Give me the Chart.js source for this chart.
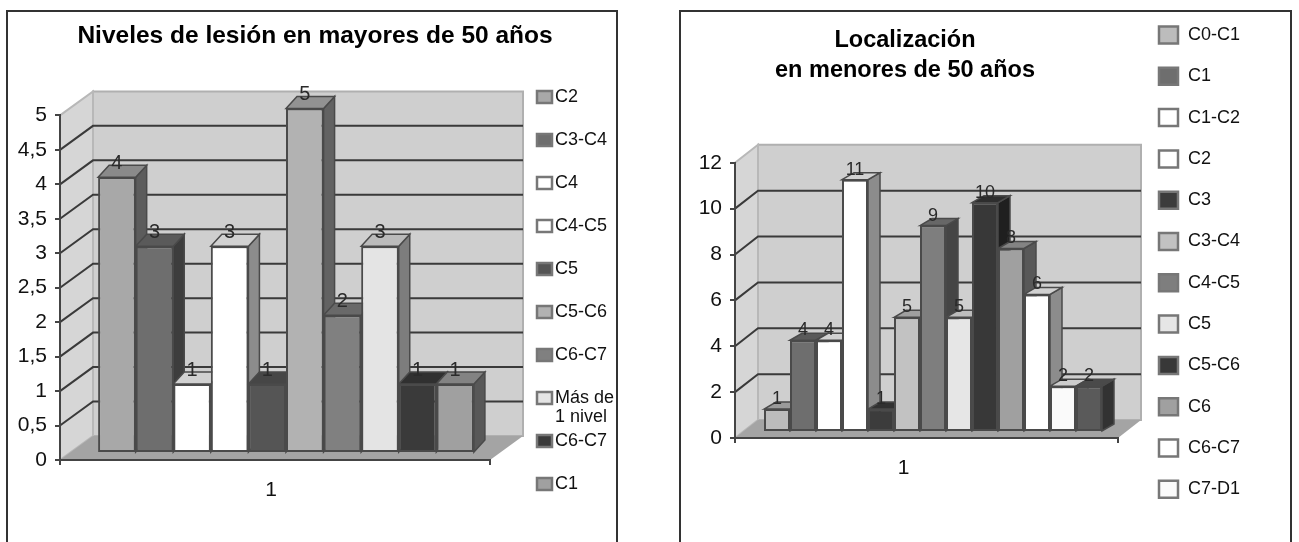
<!DOCTYPE html>
<html lang="es">
<head>
<meta charset="utf-8">
<title>Niveles de lesión</title>
<script src="https://cdn.jsdelivr.net/npm/chart.js@4"></script>
<style>
    html, body { margin: 0; background: #fff; overflow: hidden; }
    body { width: 1299px; height: 542px; position: relative; }
    .frame { position: absolute; border: solid #333; border-width: 2px 2px 0 2px; box-sizing: border-box; }
    canvas { position: absolute; top: 0; }
</style>
</head>
<body>
<div class="frame" style="left:6px; top:10px; width:612px; height:532px"></div>
<div class="frame" style="left:679px; top:10px; width:613px; height:532px"></div>
<canvas id="olderChart" width="640" height="542" style="left:0"></canvas>
<canvas id="youngerChart" width="659" height="542" style="left:640px"></canvas>
<script>
const olderLevels = ['C2', 'C3-C4', 'C4', 'C4-C5', 'C5', 'C5-C6', 'C6-C7', 'Más de\n1 nivel', 'C6-C7', 'C1'];
const olderCounts = [4, 3, 1, 3, 1, 5, 2, 3, 1, 1];
const olderFills = ['#a8a8a8', '#6e6e6e', '#ffffff', '#ffffff', '#555555', '#b2b2b2', '#808080', '#e4e4e4', '#3a3a3a', '#a0a0a0'];

// the last bar has no legend row, the legend runs out before it
const youngerLevels = ['C0-C1', 'C1', 'C1-C2', 'C2', 'C3', 'C3-C4', 'C4-C5', 'C5', 'C5-C6', 'C6', 'C6-C7', 'C7-D1', ''];
const youngerCounts = [1, 4, 4, 11, 1, 5, 9, 5, 10, 8, 6, 2, 2];
const youngerFills = ['#bcbcbc', '#6e6e6e', '#ffffff', '#ffffff', '#3c3c3c', '#c2c2c2', '#7e7e7e', '#e6e6e6', '#383838', '#a0a0a0', '#ffffff', '#fafafa', '#5a5a5a'];

const FONT = '"Liberation Sans", Arial, sans-serif';
const AXIS = '#444';

function shade(hex, f) {
    const n = parseInt(hex.slice(1), 16);
    const c = s => Math.round(((n >> s) & 255) * f);
    return `rgb(${c(16)},${c(8)},${c(0)})`;
}

function poly(ctx, pts, fill, stroke, width) {
    ctx.beginPath();
    pts.forEach((p, i) => i ? ctx.lineTo(p[0], p[1]) : ctx.moveTo(p[0], p[1]));
    ctx.closePath();
    if (fill) { ctx.fillStyle = fill; ctx.fill(); }
    if (stroke) { ctx.strokeStyle = stroke; ctx.lineWidth = width || 1; ctx.stroke(); }
}

const eachBar = (chart, fn) => chart.data.datasets.forEach((ds, i) => fn(chart.getDatasetMeta(i).data[0], ds));

// Fake 3D look: walls and floor behind the axes, extruded sides on the bars
const depthPlugin = {
    id: 'depth',
    afterLayout(chart, args, opts) {
        chart.titleBlock.left = opts.titleCenter - 300;
        chart.titleBlock.right = opts.titleCenter + 300;
    },
    beforeDraw(chart, args, opts) {
        const { ctx, chartArea: a, scales: { y } } = chart;
        const { wallDx: dx, wallDy: dy } = opts;
        ctx.save();
        poly(ctx, [[a.left + dx, a.top + dy], [a.right + dx, a.top + dy], [a.right + dx, a.bottom + dy], [a.left + dx, a.bottom + dy]], '#cfcfcf', '#b0b0b0', 2);
        poly(ctx, [[a.left, a.top], [a.left + dx, a.top + dy], [a.left + dx, a.bottom + dy], [a.left, a.bottom]], '#d6d6d6', '#b8b8b8', 2);
        poly(ctx, [[a.left, a.bottom], [a.left + dx, a.bottom + dy], [a.right + dx, a.bottom + dy], [a.right, a.bottom]], '#a4a4a4');
        y.ticks.slice(1, -1).forEach(t => {
            const py = y.getPixelForValue(t.value);
            ctx.beginPath();
            ctx.moveTo(a.left, py);
            ctx.lineTo(a.left + dx, py + dy);
            ctx.lineTo(a.right + dx, py + dy);
            ctx.strokeStyle = '#3a3a3a';
            ctx.lineWidth = 2;
            ctx.stroke();
        });
        ctx.restore();
    },
    beforeDatasetsDraw(chart, args, opts) {
        const { ctx } = chart;
        ctx.save();
        ctx.translate(opts.barDx, opts.barDy);
        const sx = opts.sideDx, sy = opts.sideDy;
        eachBar(chart, (bar, ds) => {
            const l = bar.x - bar.width / 2, r = bar.x + bar.width / 2;
            poly(ctx, [[r, bar.y], [r + sx, bar.y + sy], [r + sx, bar.base + sy], [r, bar.base]], shade(ds.backgroundColor, 0.55), '#4a4a4a', 1.5);
            poly(ctx, [[l, bar.y], [l + sx, bar.y + sy], [r + sx, bar.y + sy], [r, bar.y]], shade(ds.backgroundColor, 0.82), '#4a4a4a', 1.5);
        });
    },
    afterDatasetsDraw(chart, args, opts) {
        const { ctx } = chart;
        ctx.textAlign = 'center';
        ctx.textBaseline = 'middle';
        ctx.font = opts.valueFont + ' ' + FONT;
        ctx.fillStyle = '#2a2a2a';
        eachBar(chart, (bar, ds) => ctx.fillText(ds.data[0], bar.x, bar.y + opts.valueDy));
        ctx.restore();
    },
    // legend rows sit on a fixed pitch, and one label breaks over two lines
    afterDraw(chart, args, opts) {
        const { ctx } = chart;
        const L = opts.legend;
        ctx.save();
        ctx.textBaseline = 'middle';
        ctx.textAlign = 'left';
        chart.data.datasets.forEach((ds, i) => {
            if (!ds.label) return;
            const cy = L.top + i * L.step;
            poly(ctx, [[L.x, cy - L.boxH / 2], [L.x + L.boxW, cy - L.boxH / 2], [L.x + L.boxW, cy + L.boxH / 2], [L.x, cy + L.boxH / 2]], ds.backgroundColor, '#777', 2.5);
            const lines = ds.label.split('\n');
            ctx.font = (lines.length > 1 ? '18px "Liberation Sans Narrow", ' : '18px ') + FONT;
            ctx.fillStyle = '#111';
            lines.forEach((line, k) => ctx.fillText(line, L.x + L.boxW + L.gap, cy + k * 19));
        });
        ctx.restore();
    }
};

function drawChart(id, labels, counts, fills, cfg) {
    new Chart(document.getElementById(id), {
        type: 'bar',
        plugins: [depthPlugin],
        data: {
            labels: ['1'],
            datasets: labels.map((label, i) => ({
                label: label,
                data: [counts[i]],
                backgroundColor: fills[i],
                borderColor: '#4a4a4a',
                borderWidth: 2,
                borderSkipped: false,
                barPercentage: 1,
                categoryPercentage: cfg.barShare,
                clip: false
            }))
        },
        options: {
            responsive: false,
            animation: false,
            layout: { padding: { right: cfg.rightPad } },
            plugins: {
                legend: { display: false },
                tooltip: { enabled: false },
                title: {
                    display: true,
                    text: cfg.title,
                    color: '#000',
                    font: { family: FONT, size: cfg.titleSize, weight: 'bold', lineHeight: cfg.titleLine },
                    padding: cfg.titlePad
                },
                depth: cfg.depth
            },
            scales: {
                x: {
                    afterFit(s) { s.height = cfg.xHeight; },
                    border: { color: AXIS, width: 2 },
                    grid: { drawOnChartArea: false, color: AXIS, lineWidth: 2, tickLength: 5 },
                    ticks: { color: '#111', padding: 13, labelOffset: cfg.labelShift, font: { family: FONT, size: 21 } }
                },
                y: {
                    min: 0,
                    max: cfg.max,
                    afterFit(s) { s.width = cfg.yWidth; },
                    border: { color: AXIS, width: 2 },
                    grid: { drawOnChartArea: false, color: AXIS, lineWidth: 2, tickLength: 5 },
                    ticks: {
                        stepSize: cfg.step,
                        color: '#111',
                        padding: 8,
                        font: { family: FONT, size: 21 },
                        callback: v => String(v).replace('.', ',')
                    }
                }
            }
        }
    });
}

drawChart('olderChart', olderLevels, olderCounts, olderFills, {
    title: 'Niveles de lesión en mayores de 50 años',
    titleSize: 24.5,
    titleLine: 1.2,
    titlePad: { top: 22, bottom: 64 },
    rightPad: 150, xHeight: 82, yWidth: 60,
    barShare: 0.874, labelShift: -4,
    max: 5, step: 0.5,
    depth: {
        titleCenter: 315,
        wallDx: 33, wallDy: -24,
        barDx: 11, barDy: -7,
        sideDx: 11, sideDy: -12,
        valueFont: '20px', valueDy: -14,
        legend: { x: 537, top: 97, step: 43, boxW: 15, boxH: 12, gap: 3 }
    }
});

drawChart('youngerChart', youngerLevels, youngerCounts, youngerFills, {
    title: ['Localización', 'en menores de 50 años'],
    titleSize: 23.5,
    titleLine: 1.25,
    titlePad: { top: 26, bottom: 78 },
    rightPad: 181, xHeight: 104, yWidth: 95,
    barShare: 0.8825, labelShift: -23,
    max: 12, step: 2,
    depth: {
        titleCenter: 265,
        wallDx: 23, wallDy: -18,
        barDx: 6.5, barDy: -6,
        sideDx: 12, sideDy: -7,
        valueFont: '18px', valueDy: -10,
        legend: { x: 519, top: 35, step: 41.3, boxW: 19, boxH: 17, gap: 10 }
    }
});
</script>
</body>
</html>
